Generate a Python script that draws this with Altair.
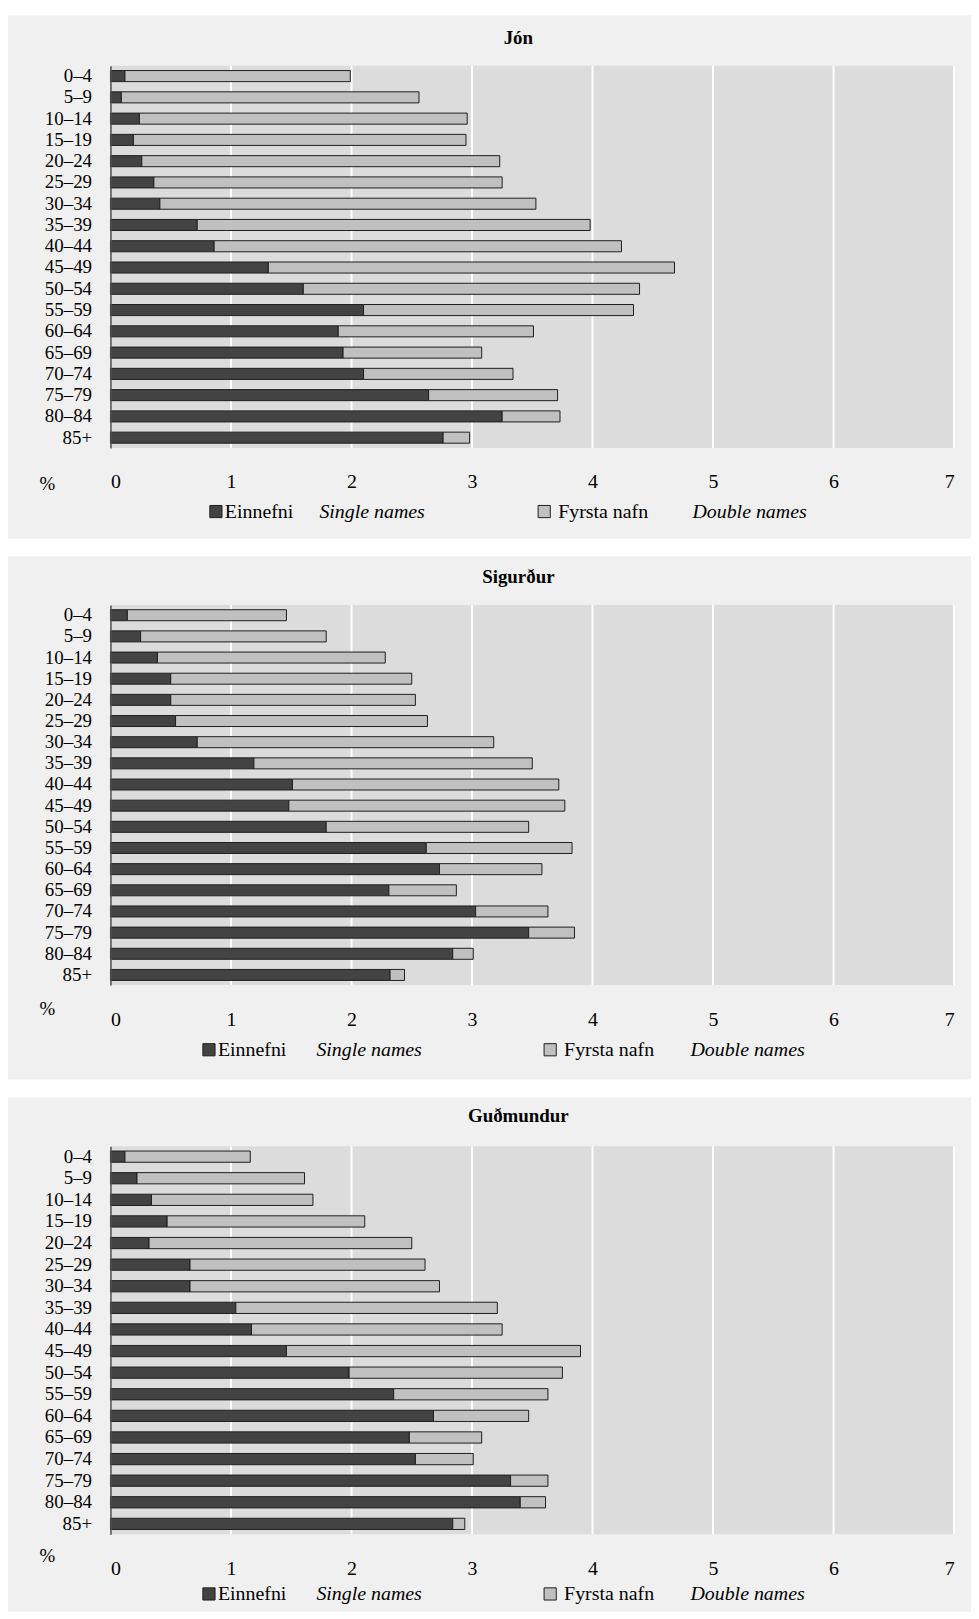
import altair as alt
import pandas as pd

AGES = ["0–4", "5–9", "10–14", "15–19", "20–24", "25–29", "30–34", "35–39", "40–44",
        "45–49", "50–54", "55–59", "60–64", "65–69", "70–74", "75–79", "80–84", "85+"]
TYPES = ["Einnefni", "Fyrsta nafn"]
TYPES_EN = ["Single names", "Double names"]
NAMES = ["Jón", "Sigurður", "Guðmundur"]
TICKS = [0, 1, 2, 3, 4, 5, 6, 7]

JON_SINGLE = [0.12, 0.09, 0.24, 0.19, 0.26, 0.36, 0.41, 0.72, 0.86, 1.31, 1.60, 2.10, 1.89, 1.93, 2.10, 2.64, 3.25, 2.76]
JON_DOUBLE = [1.87, 2.47, 2.72, 2.76, 2.97, 2.89, 3.12, 3.26, 3.38, 3.37, 2.79, 2.24, 1.62, 1.15, 1.24, 1.07, 0.48, 0.22]

SIG_SINGLE = [0.14, 0.25, 0.39, 0.50, 0.50, 0.54, 0.72, 1.19, 1.51, 1.48, 1.79, 2.62, 2.73, 2.31, 3.03, 3.47, 2.84, 2.32]
SIG_DOUBLE = [1.32, 1.54, 1.89, 2.00, 2.03, 2.09, 2.46, 2.31, 2.21, 2.29, 1.68, 1.21, 0.85, 0.56, 0.60, 0.38, 0.17, 0.12]

GUD_SINGLE = [0.12, 0.22, 0.34, 0.47, 0.32, 0.66, 0.66, 1.04, 1.17, 1.46, 1.98, 2.35, 2.68, 2.48, 2.53, 3.32, 3.40, 2.84]
GUD_DOUBLE = [1.04, 1.39, 1.34, 1.64, 2.18, 1.95, 2.07, 2.17, 2.08, 2.44, 1.77, 1.28, 0.79, 0.60, 0.48, 0.31, 0.21, 0.10]

FONT = "Liberation Serif"
DARK = "#434343"
LIGHT = "#c0c0c0"
EDGE = "#1e1e1e"
PANEL = "#f0f0f0"
PLOT = "#dcdcdc"
W = 848


def panel(name, single, double, H, top, bottom, title_y, pct_y, tick_pad, leg_y, leg_x):
    rows = []
    for i, a in enumerate(AGES):
        rows.append({"age": a, "type": TYPES[0], "order": 0, "value": single[i]})
        rows.append({"age": a, "type": TYPES[1], "order": 1, "value": double[i]})
    df = pd.DataFrame(rows)
    one = pd.DataFrame({"k": [0]})
    grid_df = pd.DataFrame({"tick": TICKS[1:]})

    xscale = alt.Scale(domain=[0, 7], nice=False, zero=True)
    yscale = alt.Scale(domain=AGES, paddingInner=0.48, paddingOuter=0.22)
    xaxis = alt.Axis(values=TICKS, grid=False, domain=False, ticks=False,
                     labelFont=FONT, labelFontSize=20, labelPadding=tick_pad, labelColor="black",
                     title="%", titleX=-64, titleY=pct_y, titleFont=FONT, titleFontSize=19,
                     titleFontWeight="normal", titleAlign="center", titleBaseline="middle",
                     titleColor="black", zindex=1)
    yaxis = alt.Axis(title=None, ticks=False, domain=True, domainColor="#505050", domainWidth=1.5,
                     labelFont=FONT, labelFontSize=19, labelPadding=19, labelColor="black", zindex=1)

    bg = alt.Chart(one).mark_rect(color=PANEL).encode(
        x=alt.value(-103), x2=alt.value(W + 17), y=alt.value(top), y2=alt.value(H + bottom))
    fill = alt.Chart(one).mark_rect(color=PLOT).encode(
        x=alt.value(0), x2=alt.value(W), y=alt.value(0), y2=alt.value(H))
    grid = alt.Chart(grid_df).mark_rule(color="white", strokeWidth=2).encode(
        x=alt.X("tick:Q", scale=xscale, axis=xaxis))
    bars = alt.Chart(df).mark_bar(stroke=EDGE, strokeWidth=1).encode(
        x=alt.X("value:Q", stack="zero", scale=xscale, axis=xaxis),
        y=alt.Y("age:N", sort=AGES, scale=yscale, axis=yaxis),
        color=alt.Color("type:N", scale=alt.Scale(domain=TYPES, range=[DARK, LIGHT]), legend=None),
        order=alt.Order("order:Q"),
    )
    title = alt.Chart(one).mark_text(text=name, font=FONT, fontSize=19, fontWeight="bold",
                                     align="center", baseline="middle", color="black").encode(
        x=alt.value(410), y=alt.value(title_y))

    leg = []
    for j, col in enumerate([DARK, LIGHT]):
        sx, tx, ix = leg_x[3 * j], leg_x[3 * j + 1], leg_x[3 * j + 2]
        leg.append(alt.Chart(one).mark_square(size=150, color=col, stroke=EDGE, strokeWidth=1,
                                              opacity=1).encode(x=alt.value(sx), y=alt.value(H + leg_y)))
        leg.append(alt.Chart(one).mark_text(text=TYPES[j], font=FONT, fontSize=20, align="left",
                                            baseline="middle", color="black").encode(
            x=alt.value(tx), y=alt.value(H + leg_y)))
        leg.append(alt.Chart(one).mark_text(text=TYPES_EN[j], font=FONT, fontSize=20, fontStyle="italic",
                                            align="left", baseline="middle", color="black").encode(
            x=alt.value(ix), y=alt.value(H + leg_y)))

    return alt.layer(bg, fill, grid, bars, title, *leg).properties(width=W, height=H)


p1 = panel(NAMES[0], JON_SINGLE, JON_DOUBLE, 384, -51, 91, -28, 36, 24, 64,
           [106, 115, 210, 436, 450, 585])
p2 = panel(NAMES[1], SIG_SINGLE, SIG_DOUBLE, 382, -49, 95, -28, 24, 25, 65,
           [99, 108, 207, 442, 456, 583])
p3 = panel(NAMES[2], GUD_SINGLE, GUD_DOUBLE, 390, -49, 78, -30, 21, 24, 60,
           [99, 108, 207, 442, 456, 583])

chart = alt.vconcat(p1, p2, p3, spacing=18).properties(
    padding={"left": 0, "top": 3, "right": 0, "bottom": 0}, background="white"
).configure_view(stroke=None)

chart.save("out.html", embed_options={"renderer": "svg", "actions": False})
